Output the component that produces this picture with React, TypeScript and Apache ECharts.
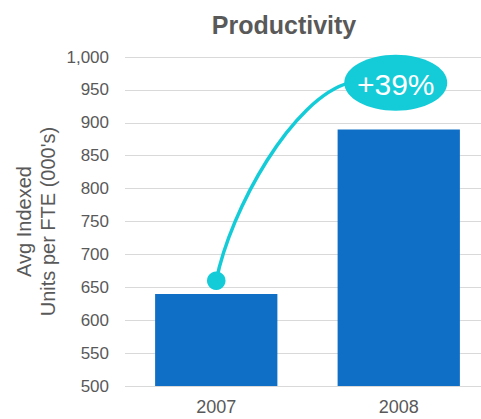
import React, { useEffect, useRef } from "react";
import * as echarts from "echarts";

const categories = ["2007", "2008"];
const values = [640, 890];
const yMin = 500;
const yMax = 1000;
const yInterval = 50;
const titleText = "Productivity";
const yAxisName = "Avg Indexed\nUnits per FTE (000's)";
const annotationText = "+39%";
const dotValue = 660;
const bubbleValue = 961;

const FONT = "Liberation Sans";
const GRAY = "#595959";
const BLUE = "#0F6FC6";
const CYAN = "#14CCD8";

export default function App() {
  const ref = useRef<HTMLDivElement>(null);

  useEffect(() => {
    if (!ref.current) return;
    const chart = echarts.init(ref.current, undefined, { renderer: "svg" });
    chart.setOption({
      animation: false,
      backgroundColor: "#ffffff",
      textStyle: { fontFamily: FONT },
      title: {
        text: titleText,
        left: 279,
        top: 7,
        textAlign: "center",
        textStyle: { fontSize: 25, fontWeight: "bold", color: GRAY, fontFamily: FONT },
      },
      grid: {
        left: 125,
        top: 57,
        right: -9,
        bottom: 33,
        containLabel: false,
        outerBoundsMode: "none",
      },
      xAxis: {
        type: "category",
        data: categories,
        axisLine: { show: false },
        axisTick: { show: false },
        axisLabel: { fontSize: 18, color: GRAY, margin: 12, fontFamily: FONT },
      },
      yAxis: {
        type: "value",
        min: yMin,
        max: yMax,
        interval: yInterval,
        name: yAxisName,
        nameLocation: "middle",
        nameGap: 65,
        nameMoveOverlap: false,
        nameTextStyle: { fontSize: 20, lineHeight: 24, color: GRAY, fontFamily: FONT },
        axisLine: { show: false },
        axisTick: { show: false },
        axisLabel: { fontSize: 17, color: GRAY, margin: 16, fontFamily: FONT },
        splitLine: { lineStyle: { color: "#D9D9D9", width: 1 } },
      },
      series: [
        {
          type: "bar",
          data: values,
          barWidth: "67%",
          itemStyle: { color: BLUE },
        },
      ],
    });

    const p0 = chart.convertToPixel({ gridIndex: 0 }, [categories[0], dotValue]) as number[];
    const p1 = chart.convertToPixel({ gridIndex: 0 }, [categories[1], bubbleValue]) as number[];
    const cx = p1[0] - 3;
    const cy = p1[1];

    chart.setOption({
      graphic: [
        {
          type: "bezierCurve",
          z: 100,
          shape: {
            x1: p0[0],
            y1: p0[1],
            cpx1: p0[0] + 14,
            cpy1: p0[1] - 71,
            cpx2: cx - 103,
            cpy2: cy + 15,
            x2: cx - 46,
            y2: cy,
          },
          style: { stroke: CYAN, lineWidth: 3.5, fill: "none" },
        },
        {
          type: "circle",
          z: 101,
          shape: { cx: p0[0], cy: p0[1], r: 9.3 },
          style: { fill: CYAN },
        },
        {
          type: "ellipse",
          z: 101,
          shape: { cx, cy, rx: 51.5, ry: 28 },
          style: { fill: CYAN },
        },
        {
          type: "text",
          z: 102,
          x: cx,
          y: cy + 2,
          style: {
            text: annotationText,
            fill: "#ffffff",
            fontSize: 30,
            fontFamily: FONT,
            align: "center",
            verticalAlign: "middle",
            textAlign: "center",
            textVerticalAlign: "middle",
          },
        },
      ],
    });

    return () => chart.dispose();
  }, []);

  return (
    <div
      ref={ref}
      style={{ position: "fixed", left: 0, top: 0, width: 481, height: 419 }}
    />
  );
}
